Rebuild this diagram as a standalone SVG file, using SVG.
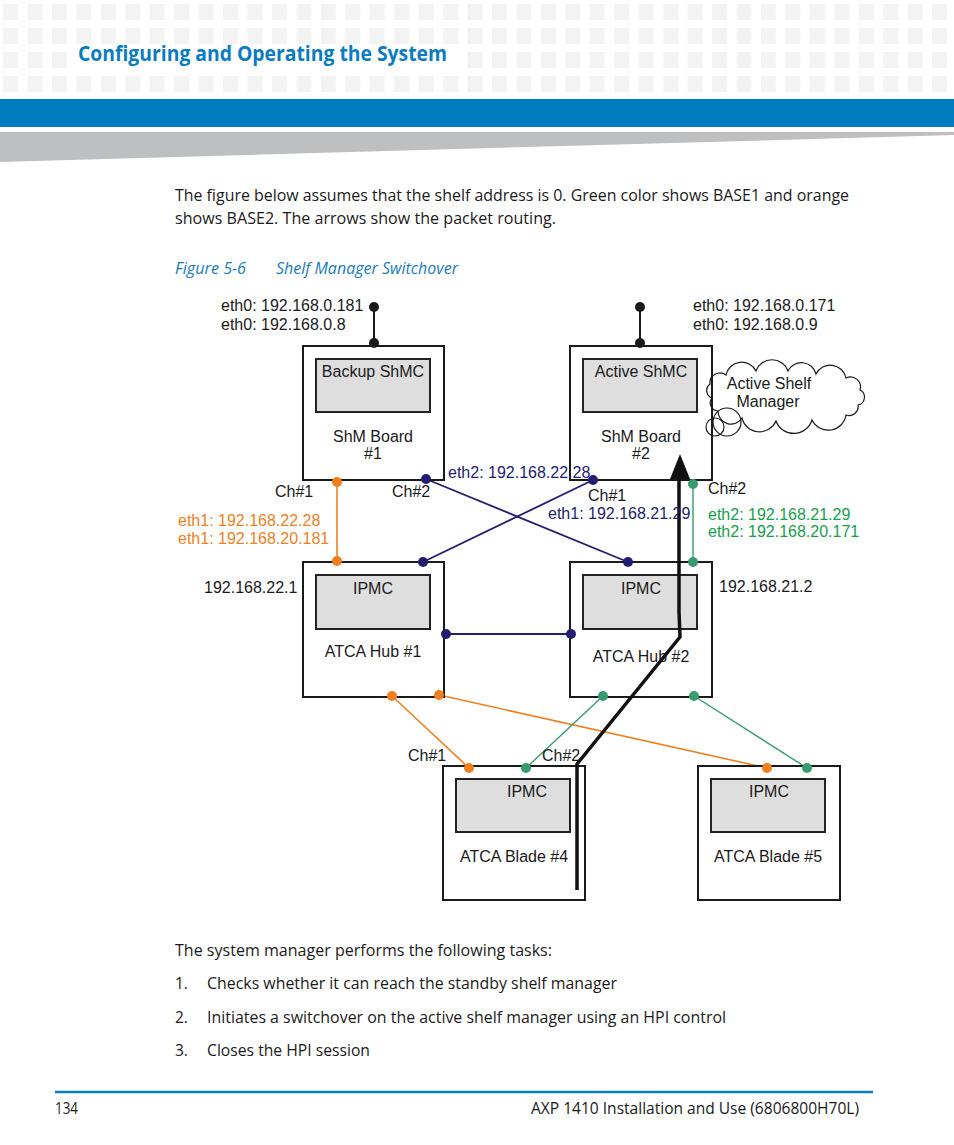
<svg xmlns="http://www.w3.org/2000/svg" width="954" height="1145" viewBox="0 0 954 1145">
<defs>
<pattern id="sq" x="3" y="4" width="24.45" height="24" patternUnits="userSpaceOnUse">
<rect x="0" y="0" width="15" height="16" fill="#f3f3f3"/>
</pattern>
</defs>
<style>
.body{font-family:"Open Sans","Liberation Sans",sans-serif;font-size:15.5px;fill:#1a1a1a}
.cap{font-family:"Open Sans","Liberation Sans",sans-serif;font-size:15.5px;fill:#1a7cc0;font-style:italic}
.d{font-family:"Liberation Sans",Arial,sans-serif;font-size:16px;fill:#1a1a1a}
.mid{text-anchor:middle}
.box{fill:#ffffff;stroke:#1a1a1a;stroke-width:2}
.inner{fill:#dedede;stroke:#222222;stroke-width:2}
.or{stroke:#f0801e;stroke-width:1.6;fill:none}
.nv{stroke:#221d70;stroke-width:1.8;fill:none}
.gr{stroke:#3a9a70;stroke-width:1.4;fill:none}
.dor{fill:#f0801e}
.dnv{fill:#221d70}
.dgr{fill:#3a9a70}
.tor{fill:#f0801e}
.tnv{fill:#221d70}
.tgr{fill:#16a04c}
</style>

<g id="header">
<rect x="3" y="4" width="951" height="88" fill="url(#sq)"/>
<rect x="70" y="46" width="395" height="26" fill="#ffffff"/>
<text x="78" y="61" font-family="'Open Sans','Liberation Sans',sans-serif" font-size="20.5" font-weight="bold" fill="#0a7cc1" textLength="369" lengthAdjust="spacingAndGlyphs">Configuring and Operating the System</text>
<rect x="0" y="99" width="954" height="28" fill="#007dc0"/>
<polygon points="0,132 954,132 954,135 0,162" fill="#bebfc1"/>
</g>

<g id="intro">
<text class="body" x="175" y="201" textLength="674" lengthAdjust="spacingAndGlyphs">The figure below assumes that the shelf address is 0. Green color shows BASE1 and orange</text>
<text class="body" x="175" y="224" textLength="381" lengthAdjust="spacingAndGlyphs">shows BASE2. The arrows show the packet routing.</text>
<text class="cap" x="175" y="274" textLength="71" lengthAdjust="spacingAndGlyphs">Figure 5-6</text>
<text class="cap" x="276" y="274" textLength="182" lengthAdjust="spacingAndGlyphs">Shelf Manager Switchover</text>
</g>

<g id="connectors">
<line x1="374" y1="307" x2="374" y2="343" stroke="#1a1a1a" stroke-width="2"/>
<line x1="640" y1="307" x2="640" y2="343" stroke="#1a1a1a" stroke-width="2"/>
<line class="or" x1="337" y1="482" x2="337" y2="561"/>
<line class="nv" x1="426" y1="479" x2="628" y2="562"/>
<line class="nv" x1="593" y1="480" x2="423" y2="562"/>
<line class="gr" x1="693" y1="484" x2="693" y2="562"/>
<line class="nv" x1="446" y1="634" x2="571" y2="634" stroke-width="2.4"/>
<line class="or" x1="392" y1="696" x2="469" y2="768"/>
<line class="or" x1="439" y1="695" x2="767" y2="768"/>
<line class="gr" x1="603" y1="696" x2="526" y2="768"/>
<line class="gr" x1="694" y1="696" x2="807" y2="768"/>
</g>

<g id="shm1">
<rect class="box" x="303" y="346" width="141" height="134"/>
<rect class="inner" x="316" y="359" width="114" height="53"/>
<text class="d mid" x="373" y="377">Backup ShMC</text>
<text class="d mid" x="373" y="442">ShM Board</text>
<text class="d mid" x="373" y="459">#1</text>
</g>

<g id="shm2">
<rect class="box" x="570" y="346" width="142" height="134"/>
<rect class="inner" x="583" y="359" width="114" height="53"/>
<text class="d mid" x="641" y="377">Active ShMC</text>
<text class="d mid" x="641" y="442">ShM Board</text>
<text class="d mid" x="641" y="459">#2</text>
</g>

<g id="cloud">
<path d="M710,384 A10,10 0 0 1 726,375 A16,16 0 0 1 756,371 A17,17 0 0 1 788,371 A15,15 0 0 1 816,374 A16,16 0 0 1 846,378 A10,10 0 0 1 860,390 A8,8 0 0 1 858,405 A9,9 0 0 1 846,415 A18,18 0 0 1 812,420 A19,19 0 0 1 776,421 A18,18 0 0 1 742,418 A13,13 0 0 1 718,411 A8,8 0 0 1 712,398 A8,8 0 0 1 710,384 Z" fill="none" stroke="#1a1a1a" stroke-width="1.2"/>
<circle cx="727" cy="422" r="14" fill="none" stroke="#1a1a1a" stroke-width="1.2"/>
<circle cx="715" cy="427" r="9" fill="none" stroke="#1a1a1a" stroke-width="1.2"/>
<text class="d mid" x="769" y="389">Active Shelf</text>
<text class="d mid" x="768" y="407">Manager</text>
</g>

<g id="hub1">
<rect class="box" x="303" y="562" width="141" height="135"/>
<rect class="inner" x="316" y="575" width="114" height="54"/>
<text class="d mid" x="373" y="594">IPMC</text>
<text class="d mid" x="373" y="657">ATCA Hub #1</text>
</g>

<g id="hub2">
<rect class="box" x="570" y="562" width="142" height="135"/>
<rect class="inner" x="583" y="575" width="114" height="54"/>
<text class="d mid" x="641" y="594">IPMC</text>
<text class="d mid" x="641" y="662">ATCA Hub #2</text>
</g>

<g id="blade4">
<rect class="box" x="443" y="766" width="142" height="134"/>
<rect class="inner" x="456" y="779" width="114" height="53"/>
<text class="d mid" x="527" y="797">IPMC</text>
<text class="d mid" x="514" y="862">ATCA Blade #4</text>
</g>

<g id="blade5">
<rect class="box" x="698" y="766" width="142" height="134"/>
<rect class="inner" x="711" y="779" width="114" height="53"/>
<text class="d mid" x="769" y="797">IPMC</text>
<text class="d mid" x="768" y="862">ATCA Blade #5</text>
</g>

<g id="route">
<polyline points="577,890 577,764 680,637 679,612 679,476" fill="none" stroke="#111111" stroke-width="3.5" stroke-linejoin="miter"/>
<polygon points="680,454 670,479 690,479" fill="#111111"/>
</g>

<g id="dots">
<circle cx="374" cy="307" r="5" fill="#1a1a1a"/>
<circle cx="374" cy="343" r="5" fill="#1a1a1a"/>
<circle cx="640" cy="307" r="5" fill="#1a1a1a"/>
<circle cx="640" cy="343" r="5" fill="#1a1a1a"/>
<circle class="dor" cx="337" cy="482" r="5"/>
<circle class="dor" cx="337" cy="561" r="5"/>
<circle class="dnv" cx="426" cy="479" r="5"/>
<circle class="dnv" cx="593" cy="480" r="5"/>
<circle class="dnv" cx="423" cy="562" r="5"/>
<circle class="dnv" cx="628" cy="562" r="5"/>
<circle class="dgr" cx="693" cy="484" r="5"/>
<circle class="dgr" cx="693" cy="562" r="5"/>
<circle class="dnv" cx="446" cy="634" r="5"/>
<circle class="dnv" cx="571" cy="634" r="5"/>
<circle class="dor" cx="392" cy="696" r="5"/>
<circle class="dor" cx="439" cy="695" r="5"/>
<circle class="dgr" cx="603" cy="696" r="5"/>
<circle class="dgr" cx="694" cy="696" r="5"/>
<circle class="dor" cx="469" cy="768" r="5"/>
<circle class="dgr" cx="526" cy="768" r="5"/>
<circle class="dor" cx="767" cy="768" r="5"/>
<circle class="dgr" cx="807" cy="768" r="5"/>
</g>

<g id="labels">
<text class="d" x="221" y="311">eth0: 192.168.0.181</text>
<text class="d" x="221" y="330">eth0: 192.168.0.8</text>
<text class="d" x="693" y="311">eth0: 192.168.0.171</text>
<text class="d" x="693" y="330">eth0: 192.168.0.9</text>
<text class="d" x="275" y="497">Ch#1</text>
<text class="d" x="392" y="497">Ch#2</text>
<text class="d tnv" x="448" y="478">eth2: 192.168.22.28</text>
<text class="d" x="588" y="501">Ch#1</text>
<text class="d tnv" x="548" y="519">eth1: 192.168.21.29</text>
<text class="d" x="708" y="494">Ch#2</text>
<text class="d tgr" x="708" y="520">eth2: 192.168.21.29</text>
<text class="d tgr" x="708" y="537">eth2: 192.168.20.171</text>
<text class="d tor" x="178" y="526">eth1: 192.168.22.28</text>
<text class="d tor" x="178" y="544">eth1: 192.168.20.181</text>
<text class="d" x="204" y="593">192.168.22.1</text>
<text class="d" x="719" y="592">192.168.21.2</text>
<text class="d" x="408" y="761">Ch#1</text>
<text class="d" x="542" y="761">Ch#2</text>
</g>

<g id="tasks">
<text class="body" x="175" y="956" textLength="377" lengthAdjust="spacingAndGlyphs">The system manager performs the following tasks:</text>
<text class="body" x="175" y="989">1.</text>
<text class="body" x="207" y="989" textLength="410" lengthAdjust="spacingAndGlyphs">Checks whether it can reach the standby shelf manager</text>
<text class="body" x="175" y="1023">2.</text>
<text class="body" x="207" y="1023" textLength="519" lengthAdjust="spacingAndGlyphs">Initiates a switchover on the active shelf manager using an HPI control</text>
<text class="body" x="175" y="1056">3.</text>
<text class="body" x="207" y="1056" textLength="163" lengthAdjust="spacingAndGlyphs">Closes the HPI session</text>
</g>

<g id="footer">
<line x1="55" y1="1092" x2="873" y2="1092" stroke="#0a7cc1" stroke-width="2.5"/>
<text class="body" x="55" y="1114" textLength="23" lengthAdjust="spacingAndGlyphs">134</text>
<text class="body" x="531" y="1114" textLength="328" lengthAdjust="spacingAndGlyphs">AXP 1410 Installation and Use (6806800H70L)</text>
</g>
</svg>
